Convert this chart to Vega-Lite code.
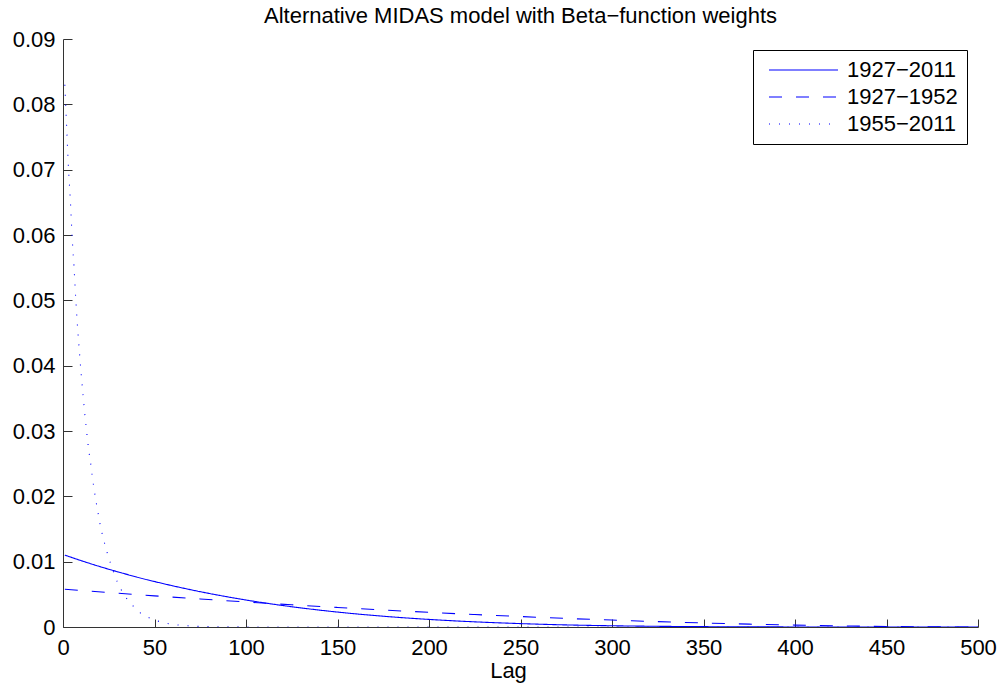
{
  "$schema": "https://vega.github.io/schema/vega-lite/v6.json",
  "width": 915,
  "height": 588,
  "autosize": {"type": "none"},
  "padding": {"left": 63, "top": 39, "right": 22, "bottom": 61},
  "background": "white",
  "config": {
    "view": {"stroke": null},
    "font": "Liberation Sans",
    "axis": {"grid": false, "domainColor": "#333333", "tickColor": "#333333", "labelColor": "black", "titleColor": "black", "labelFont": "Liberation Sans", "titleFont": "Liberation Sans", "labelFontSize": 22, "titleFontSize": 22, "titleFontWeight": "normal"}
  },
  "title": {"text": "Alternative MIDAS model with Beta−function weights", "font": "Liberation Sans", "fontSize": 22, "fontWeight": "normal", "color": "black", "anchor": "middle", "frame": "group", "baseline": "alphabetic", "offset": 4, "dy": 21},
  "data": {"values": [
    {"lag": 1, "w": 0.0110, "series": "1927−2011"},
    {"lag": 10, "w": 0.01015, "series": "1927−2011"},
    {"lag": 20, "w": 0.00926, "series": "1927−2011"},
    {"lag": 30, "w": 0.00844, "series": "1927−2011"},
    {"lag": 40, "w": 0.00767, "series": "1927−2011"},
    {"lag": 50, "w": 0.00696, "series": "1927−2011"},
    {"lag": 60, "w": 0.00630, "series": "1927−2011"},
    {"lag": 70, "w": 0.00569, "series": "1927−2011"},
    {"lag": 80, "w": 0.00513, "series": "1927−2011"},
    {"lag": 90, "w": 0.00461, "series": "1927−2011"},
    {"lag": 100, "w": 0.00413, "series": "1927−2011"},
    {"lag": 120, "w": 0.00329, "series": "1927−2011"},
    {"lag": 140, "w": 0.00259, "series": "1927−2011"},
    {"lag": 160, "w": 0.00201, "series": "1927−2011"},
    {"lag": 180, "w": 0.00154, "series": "1927−2011"},
    {"lag": 200, "w": 0.00116, "series": "1927−2011"},
    {"lag": 225, "w": 0.00079, "series": "1927−2011"},
    {"lag": 250, "w": 0.00052, "series": "1927−2011"},
    {"lag": 275, "w": 0.00032, "series": "1927−2011"},
    {"lag": 300, "w": 0.00019, "series": "1927−2011"},
    {"lag": 325, "w": 0.000106, "series": "1927−2011"},
    {"lag": 350, "w": 0.000054, "series": "1927−2011"},
    {"lag": 400, "w": 0.000009, "series": "1927−2011"},
    {"lag": 450, "w": 0.0, "series": "1927−2011"},
    {"lag": 500, "w": 0.0, "series": "1927−2011"},
    {"lag": 1, "w": 0.00578, "series": "1927−1952"},
    {"lag": 25, "w": 0.00527, "series": "1927−1952"},
    {"lag": 50, "w": 0.00477, "series": "1927−1952"},
    {"lag": 75, "w": 0.00429, "series": "1927−1952"},
    {"lag": 100, "w": 0.00383, "series": "1927−1952"},
    {"lag": 125, "w": 0.00340, "series": "1927−1952"},
    {"lag": 150, "w": 0.00299, "series": "1927−1952"},
    {"lag": 175, "w": 0.00260, "series": "1927−1952"},
    {"lag": 200, "w": 0.00224, "series": "1927−1952"},
    {"lag": 225, "w": 0.00191, "series": "1927−1952"},
    {"lag": 250, "w": 0.00160, "series": "1927−1952"},
    {"lag": 275, "w": 0.00131, "series": "1927−1952"},
    {"lag": 300, "w": 0.00106, "series": "1927−1952"},
    {"lag": 325, "w": 0.00082, "series": "1927−1952"},
    {"lag": 350, "w": 0.00062, "series": "1927−1952"},
    {"lag": 375, "w": 0.00044, "series": "1927−1952"},
    {"lag": 400, "w": 0.00029, "series": "1927−1952"},
    {"lag": 425, "w": 0.00017, "series": "1927−1952"},
    {"lag": 450, "w": 0.00008, "series": "1927−1952"},
    {"lag": 475, "w": 0.000022, "series": "1927−1952"},
    {"lag": 500, "w": 0.0, "series": "1927−1952"},
    {"lag": 1, "w": 0.0830, "series": "1955−2011"},
    {"lag": 2, "w": 0.0765, "series": "1955−2011"},
    {"lag": 3, "w": 0.0702, "series": "1955−2011"},
    {"lag": 4, "w": 0.0654, "series": "1955−2011"},
    {"lag": 5, "w": 0.0596, "series": "1955−2011"},
    {"lag": 6, "w": 0.0552, "series": "1955−2011"},
    {"lag": 7, "w": 0.0501, "series": "1955−2011"},
    {"lag": 8, "w": 0.0457, "series": "1955−2011"},
    {"lag": 9, "w": 0.0420, "series": "1955−2011"},
    {"lag": 10, "w": 0.0385, "series": "1955−2011"},
    {"lag": 11, "w": 0.0354, "series": "1955−2011"},
    {"lag": 12, "w": 0.0323, "series": "1955−2011"},
    {"lag": 13, "w": 0.0297, "series": "1955−2011"},
    {"lag": 14, "w": 0.0272, "series": "1955−2011"},
    {"lag": 15, "w": 0.0253, "series": "1955−2011"},
    {"lag": 16, "w": 0.0231, "series": "1955−2011"},
    {"lag": 17, "w": 0.0211, "series": "1955−2011"},
    {"lag": 18, "w": 0.0193, "series": "1955−2011"},
    {"lag": 19, "w": 0.0177, "series": "1955−2011"},
    {"lag": 20, "w": 0.0161, "series": "1955−2011"},
    {"lag": 22, "w": 0.0136, "series": "1955−2011"},
    {"lag": 24, "w": 0.0115, "series": "1955−2011"},
    {"lag": 26, "w": 0.0097, "series": "1955−2011"},
    {"lag": 28, "w": 0.0081, "series": "1955−2011"},
    {"lag": 30, "w": 0.0067, "series": "1955−2011"},
    {"lag": 32, "w": 0.0056, "series": "1955−2011"},
    {"lag": 34, "w": 0.0047, "series": "1955−2011"},
    {"lag": 36, "w": 0.0039, "series": "1955−2011"},
    {"lag": 38, "w": 0.0033, "series": "1955−2011"},
    {"lag": 40, "w": 0.0027, "series": "1955−2011"},
    {"lag": 42, "w": 0.0022, "series": "1955−2011"},
    {"lag": 45, "w": 0.0017, "series": "1955−2011"},
    {"lag": 48, "w": 0.0013, "series": "1955−2011"},
    {"lag": 52, "w": 0.0009, "series": "1955−2011"},
    {"lag": 56, "w": 0.0006, "series": "1955−2011"},
    {"lag": 60, "w": 0.0004, "series": "1955−2011"},
    {"lag": 65, "w": 0.00025, "series": "1955−2011"},
    {"lag": 70, "w": 0.00015, "series": "1955−2011"},
    {"lag": 80, "w": 0.00005, "series": "1955−2011"},
    {"lag": 100, "w": 0.00001, "series": "1955−2011"},
    {"lag": 150, "w": 0.0, "series": "1955−2011"},
    {"lag": 200, "w": 0.0, "series": "1955−2011"},
    {"lag": 250, "w": 0.0, "series": "1955−2011"},
    {"lag": 300, "w": 0.0, "series": "1955−2011"},
    {"lag": 350, "w": 0.0, "series": "1955−2011"},
    {"lag": 400, "w": 0.0, "series": "1955−2011"},
    {"lag": 450, "w": 0.0, "series": "1955−2011"},
    {"lag": 500, "w": 0.0, "series": "1955−2011"}
  ]},
  "mark": {"type": "line", "color": "#0000ff", "strokeWidth": 1.1, "interpolate": "monotone", "clip": true},
  "encoding": {
    "x": {"field": "lag", "type": "quantitative", "scale": {"domain": [0, 500], "nice": false, "zero": false},
      "axis": {"title": "Lag", "values": [0, 50, 100, 150, 200, 250, 300, 350, 400, 450, 500], "format": "d", "tickSize": -8, "labelPadding": 18, "titlePadding": 2, "titleX": 445, "labelFlush": false, "labelOverlap": false}},
    "y": {"field": "w", "type": "quantitative", "scale": {"domain": [0, 0.09], "nice": false},
      "axis": {"title": null, "values": [0, 0.01, 0.02, 0.03, 0.04, 0.05, 0.06, 0.07, 0.08, 0.09], "format": ".2~f", "tickSize": -9, "labelPadding": 17, "labelFlush": false, "labelOverlap": false}},
    "strokeDash": {"field": "series", "type": "nominal",
      "scale": {"domain": ["1927−2011", "1927−1952", "1955−2011"], "range": [[1, 0], [13, 14], [1, 9]]},
      "legend": {"title": null, "orient": "none", "legendX": 690, "legendY": 11, "strokeColor": "black", "fillColor": "white", "padding": 9, "symbolOffset": 6, "symbolType": "M-1,0H5.9", "symbolSize": 400, "symbolStrokeColor": "#0000ff", "symbolFillColor": "transparent", "symbolStrokeWidth": 1.1, "labelFont": "Liberation Sans", "labelFontSize": 22, "labelColor": "black", "labelOffset": 57, "rowPadding": 5}}
  }
}
